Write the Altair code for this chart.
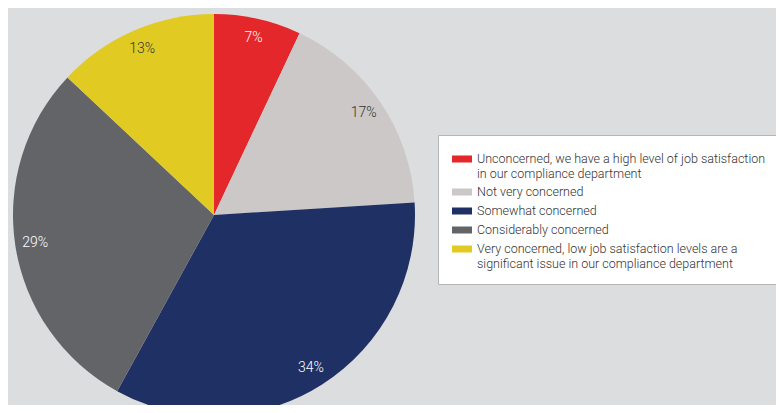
import altair as alt
import pandas as pd

categories = [
    "Unconcerned, we have a high level of job satisfaction|in our compliance department",
    "Not very concerned",
    "Somewhat concerned",
    "Considerably concerned",
    "Very concerned, low job satisfaction levels are a|significant issue in our compliance department",
]
values = [7, 17, 34, 29, 13]
colors = ["#e3272b", "#cbc8c7", "#1f3064", "#636468", "#e1cb23"]
label_colors = ["#ffffff", "#333333", "#ffffff", "#ffffff", "#333333"]

df = pd.DataFrame({
    "category": categories,
    "value": values,
    "order": list(range(len(values))),
    "label": [f"{v}%" for v in values],
    "lcolor": label_colors,
})

base = alt.Chart(df).encode(
    theta=alt.Theta("value:Q", stack=True),
    order=alt.Order("order:Q"),
)

pie = base.mark_arc(outerRadius=201, x=206, y=207).encode(
    color=alt.Color(
        "category:N",
        scale=alt.Scale(domain=categories, range=colors),
        sort=categories,
        legend=alt.Legend(
            title=None,
            orient="none",
            legendX=430,
            legendY=127,
            labelExpr="split(datum.label, '|')",
            labelFont="Roboto",
            labelFontWeight=300,
            labelFontSize=12.5,
            labelColor="#333333",
            labelLimit=400,
            symbolType="M-1,-0.35H1V0.35H-1Z",
            symbolSize=400,
            symbolStrokeWidth=0,
            fillColor="#ffffff",
            strokeColor="#b5b5b5",
            padding=14,
            rowPadding=2,
            labelOffset=5,
        ),
    )
)

text = base.mark_text(radius=181, x=206, y=207, font="Roboto", fontSize=14, fontWeight=300).encode(
    text="label:N",
    color=alt.Color("lcolor:N", scale=None),
)

chart = (pie + text).properties(
    width=768, height=397, padding=0, autosize=alt.AutoSizeParams(type="none")
).configure(background="#dcdddf").configure_view(stroke=None)

chart.save("out.html", embed_options={"renderer": "svg", "actions": False})
